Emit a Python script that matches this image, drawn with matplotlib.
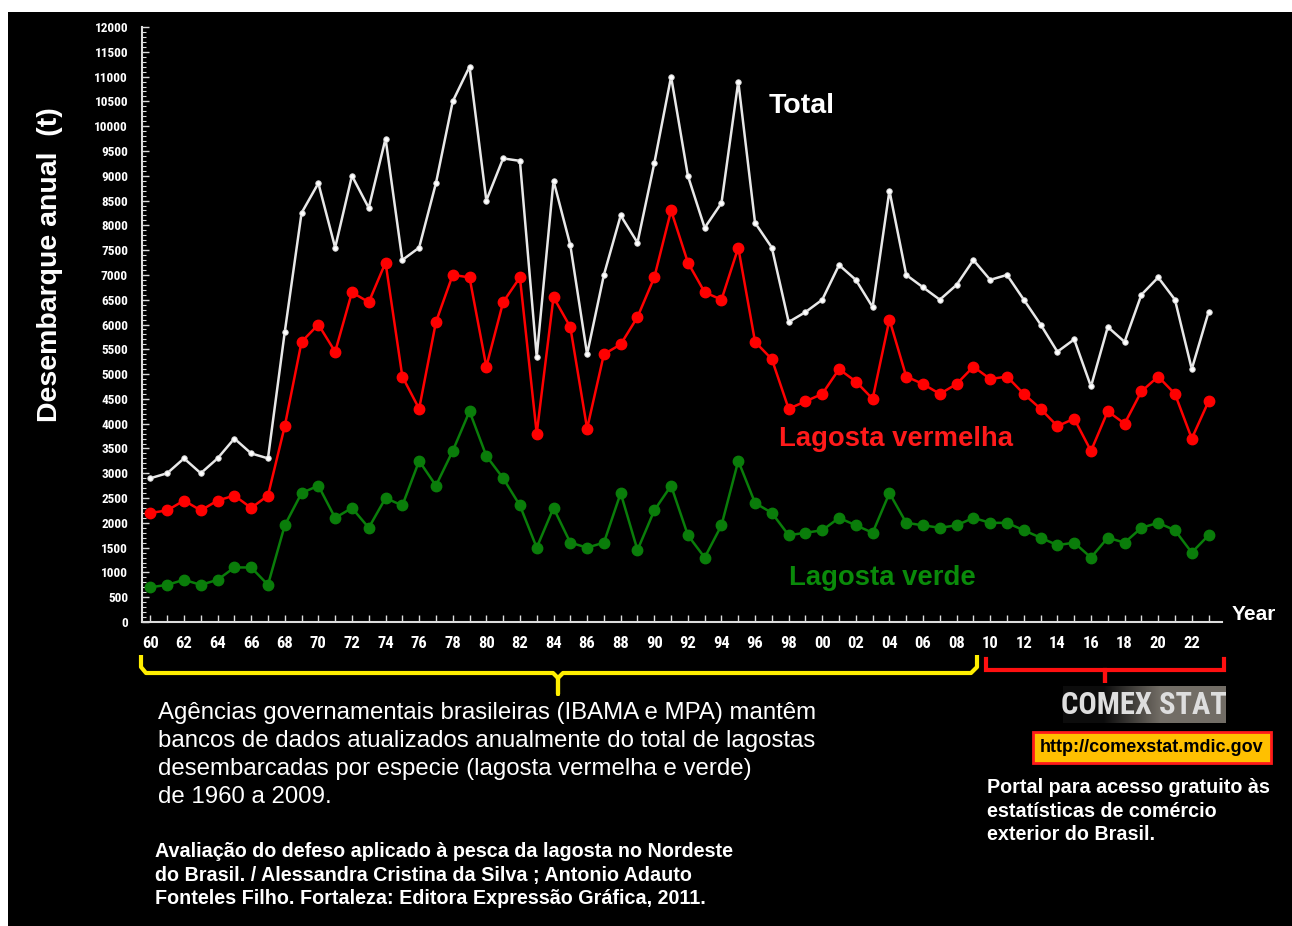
import numpy as np
import matplotlib
matplotlib.use("Agg")
import matplotlib.pyplot as plt
from matplotlib import font_manager
from matplotlib.patches import Rectangle
from matplotlib.ticker import MultipleLocator, FixedLocator

years = list(range(1960, 2024))
total = [2900, 3000, 3300, 3000, 3300, 3700, 3400, 3300, 5850, 8250,
         8850, 7550, 9000, 8350, 9750, 7300, 7550, 8850, 10500, 11200,
         8500, 9350, 9300, 5350, 8900, 7600, 5400, 7000, 8200, 7650,
         9250, 11000, 9000, 7950, 8450, 10900, 8050, 7550, 6050, 6250,
         6500, 7200, 6900, 6350, 8700, 7000, 6750, 6500, 6800, 7300,
         6900, 7000, 6500, 6000, 5450, 5700, 4750, 5950, 5650, 6600,
         6950, 6500, 5100, 6250]
vermelha = [2200, 2250, 2450, 2250, 2450, 2550, 2300, 2550, 3950, 5650,
            6000, 5450, 6650, 6450, 7250, 4950, 4300, 6050, 7000, 6950,
            5150, 6450, 6950, 3800, 6550, 5950, 3900, 5400, 5600, 6150,
            6950, 8300, 7250, 6650, 6500, 7550, 5650, 5300, 4300, 4450,
            4600, 5100, 4850, 4500, 6100, 4950, 4800, 4600, 4800, 5150,
            4900, 4950, 4600, 4300, 3950, 4100, 3450, 4250, 4000, 4650,
            4950, 4600, 3700, 4450]
verde = [700, 750, 850, 750, 850, 1100, 1100, 750, 1950, 2600,
         2750, 2100, 2300, 1900, 2500, 2350, 3250, 2750, 3450, 4250,
         3350, 2900, 2350, 1500, 2300, 1600, 1500, 1600, 2600, 1450,
         2250, 2750, 1750, 1300, 1950, 3250, 2400, 2200, 1750, 1800,
         1850, 2100, 1950, 1800, 2600, 2000, 1950, 1900, 1950, 2100,
         2000, 2000, 1850, 1700, 1550, 1600, 1300, 1700, 1600, 1900,
         2000, 1850, 1400, 1750]
ytick_values = list(range(0, 12001, 500))
xtick_years = list(range(1960, 2023, 2))
xtick_labels = ["%02d" % (y % 100) for y in xtick_years]


def pick(cands, default="DejaVu Sans"):
    for c in cands:
        try:
            font_manager.findfont(font_manager.FontProperties(family=c), fallback_to_default=False)
            return c
        except Exception:
            pass
    return default


NARROW = pick(["Liberation Sans Narrow", "DejaVu Sans Condensed", "Roboto Condensed"], "Liberation Sans")
SANS = pick(["Liberation Sans", "Arial", "DejaVu Sans"])

W, H = 1292, 926
fig = plt.figure(figsize=(W / 100, H / 100), dpi=100, facecolor="white")

# overlay axes in pixel coords
ax0 = fig.add_axes([0, 0, 1, 1])
ax0.set_xlim(0, W)
ax0.set_ylim(H, 0)
ax0.axis("off")
ax0.add_patch(Rectangle((8, 12), W - 8, H - 12, facecolor="black", edgecolor="none", zorder=0))

L, R, T, B = 142, 1222, 27, 622
ax = fig.add_axes([L / W, 1 - B / H, (R - L) / W, (B - T) / H])
ax.set_facecolor("none")

ax.plot(years, total, color="#e8e8e8", lw=1.8, marker="o", ms=4, mfc="white", mec="#cccccc", mew=0.6, zorder=3)
ax.plot(years, vermelha, color="#ff0000", lw=1.8, marker="o", ms=7.5, mfc="#ff0000", mec="#ff0000", zorder=3)
ax.plot(years, verde, color="#0a7d0a", lw=1.8, marker="o", ms=7.5, mfc="#0a7d0a", mec="#0a7d0a", zorder=3)

ax.set_xlim(1959.5, 2023.8)
ax.set_ylim(0, 12000)
for s in ["top", "right"]:
    ax.spines[s].set_visible(False)
for s in ["left", "bottom"]:
    ax.spines[s].set_color("#dddddd")
    ax.spines[s].set_linewidth(1.5)

ax.yaxis.set_major_locator(FixedLocator(ytick_values))
ax.yaxis.set_minor_locator(MultipleLocator(100))
ax.set_yticklabels([str(v) for v in ytick_values])
ax.xaxis.set_major_locator(FixedLocator(xtick_years))
ax.xaxis.set_minor_locator(MultipleLocator(1))
ax.set_xticklabels(xtick_labels)

ax.tick_params(axis="y", which="major", direction="in", length=5, width=1, color="#dddddd",
               labelcolor="white", labelsize=9.5, pad=10)
ax.tick_params(axis="y", which="minor", direction="in", length=3, width=0.8, color="#dddddd")
ax.tick_params(axis="x", which="both", direction="in", length=5, width=1, color="#dddddd",
               labelcolor="white", labelsize=12, pad=10)
for lab in ax.get_yticklabels():
    lab.set_fontfamily(NARROW)
    lab.set_fontweight("bold")
for lab in ax.get_xticklabels():
    lab.set_fontfamily(NARROW)
    lab.set_fontweight("bold")

# axis titles
ax0.text(50, 265, "Desembarque anual  (t)", rotation=90, color="white", fontsize=20.5, fontweight="bold",
         family=SANS, ha="center", va="center")
ax0.text(1232, 615, "Year", color="white", fontsize=15, fontweight="bold", family=SANS, ha="left", va="center")

# series labels
ax0.text(769, 106, "Total", color="white", fontsize=20.5, fontweight="bold", family=SANS, ha="left", va="center")
ax0.text(779, 439, "Lagosta vermelha", color="#ff1a1a", fontsize=19.8, fontweight="bold", family=SANS,
         ha="left", va="center")
ax0.text(789, 578, "Lagosta verde", color="#0a8a0a", fontsize=19.8, fontweight="bold", family=SANS,
         ha="left", va="center")

# brackets
yel = "#ffee00"
ax0.plot([141, 141, 146, 553, 558, 558, 558, 563, 971, 977, 977],
         [655, 667, 673, 673, 678, 694, 678, 673, 673, 667, 655],
         color=yel, lw=3, solid_joinstyle="round", solid_capstyle="butt")
ax0.plot([986, 986, 1105, 1105, 1105, 1224, 1224],
         [659, 670, 670, 683, 670, 670, 659], color="#ff1010", lw=3, solid_joinstyle="miter")

# main text blocks
ax0.text(158, 702, "Agências governamentais brasileiras (IBAMA e MPA) mantêm\n"
                   "bancos de dados atualizados anualmente do total de lagostas\n"
                   "desembarcadas por especie (lagosta vermelha e verde)\n"
                   "de 1960 a 2009.",
         color="white", fontsize=17.3, family=SANS, ha="left", va="top", linespacing=1.36)
ax0.text(155, 842, "Avaliação do defeso aplicado à pesca da lagosta no Nordeste\n"
                   "do Brasil. / Alessandra Cristina da Silva ; Antonio Adauto\n"
                   "Fonteles Filho. Fortaleza: Editora Expressão Gráfica, 2011.",
         color="white", fontsize=14.2, fontweight="bold", family=SANS, ha="left", va="top", linespacing=1.31)

# COMEX STAT logo
grad = np.linspace(0, 1, 200)
col0 = np.array([0.05, 0.05, 0.05])
col1 = np.array([0.45, 0.43, 0.40])
wts = np.clip((grad - 0.25) / 0.35, 0, 1)
img = (col0[None, :] * (1 - wts[:, None]) + col1[None, :] * wts[:, None])[None, :, :]
ax0.imshow(img, extent=(1063, 1226, 723, 686), aspect="auto", zorder=1, interpolation="bilinear")
ax0.set_xlim(0, W)
ax0.set_ylim(H, 0)
ax0.text(1144, 705, "COMEX STAT", color="#dedede", fontsize=22, fontweight="bold", family=NARROW,
         ha="center", va="center", zorder=2)

ax0.add_patch(Rectangle((1033, 732), 238, 31, facecolor="#ffc000", edgecolor="#ff1a1a", lw=2, zorder=2))
ax0.text(1152, 747.5, "http://comexstat.mdic.gov", color="black", fontsize=13, fontweight="bold",
         family=SANS, ha="center", va="center", zorder=3)

ax0.text(987, 778, "Portal para acesso gratuito às\nestatísticas de comércio\nexterior do Brasil.",
         color="white", fontsize=14.2, fontweight="bold", family=SANS, ha="left", va="top", linespacing=1.31)

fig.savefig("out.png", dpi=100, facecolor=fig.get_facecolor())
